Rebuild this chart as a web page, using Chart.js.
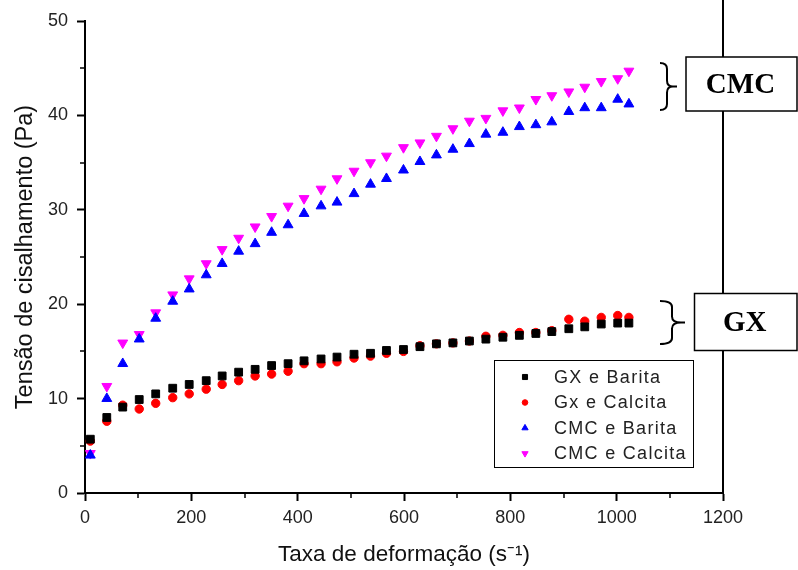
<!DOCTYPE html>
<html>
<head>
<meta charset="utf-8">
<script src="https://cdn.jsdelivr.net/npm/chart.js@4/dist/chart.umd.min.js"></script>
<style>
  body { margin: 0; background: #fff; }
  canvas { display: block; }
</style>
</head>
<body>
<canvas id="shear-chart" width="798" height="570"></canvas>
<script>
// shear rate (s^-1), same for all four samples
let shearRate = [10, 41, 71, 102, 133, 165, 196, 228, 258, 289, 320, 351, 382, 412, 444, 474, 506, 537,
    567, 599, 630, 661, 692, 723, 754, 786, 817, 848, 878, 910, 940, 971, 1002, 1023]

let gxBarita = [5.7, 8.0, 9.1, 9.9, 10.5, 11.1, 11.5, 11.9, 12.4, 12.8, 13.1, 13.5, 13.7, 14.0, 14.2, 14.4, 14.7, 14.8,
    15.1, 15.2, 15.5, 15.8, 15.9, 16.1, 16.3, 16.5, 16.7, 16.9, 17.1, 17.4, 17.6, 17.9, 18.0, 18.0]
let gxCalcita = [5.5, 7.6, 9.3, 8.9, 9.5, 10.1, 10.5, 11.0, 11.5, 11.9, 12.4, 12.6, 12.9, 13.7, 13.7, 13.9, 14.3, 14.5,
    14.8, 15.0, 15.6, 15.8, 15.9, 16.1, 16.6, 16.7, 17.0, 17.0, 17.2, 18.4, 18.2, 18.6, 18.8, 18.6]
let cmcBarita = [4.0, 10.0, 13.7, 16.3, 18.5, 20.3, 21.6, 23.1, 24.3, 25.6, 26.4, 27.6, 28.4, 29.6, 30.4, 30.8, 31.7, 32.7,
    33.3, 34.2, 35.1, 35.8, 36.4, 37.0, 38.0, 38.2, 38.8, 39.0, 39.3, 40.4, 40.8, 40.8, 41.7, 41.2]
let cmcCalcita = [4.2, 11.3, 15.9, 16.8, 19.1, 21.0, 22.7, 24.3, 25.8, 27.0, 28.2, 29.3, 30.4, 31.2, 32.2, 33.3, 34.1, 35.0,
    35.7, 36.6, 37.1, 37.8, 38.6, 39.4, 39.7, 40.5, 40.8, 41.7, 42.1, 42.5, 43.0, 43.6, 43.9, 44.7]

let seriesNames = ['GX e Barita', 'Gx e Calcita', 'CMC e Barita', 'CMC e Calcita']
let xTicks = [0, 200, 400, 600, 800, 1000, 1200]
let yTicks = [0, 10, 20, 30, 40, 50]
let groupLabels = ['CMC', 'GX']

function toPoints(ys) {
    return ys.map(function(y, i) { return {x: shearRate[i], y: y} })
}

let sansFont = '"Liberation Sans", Arial, sans-serif'

// little "}" bracket
function drawBracket(ctx, x0, xv, xt, y0, y1) {
    let ym = (y0 + y1) / 2
    let r = 6
    ctx.beginPath()
    ctx.moveTo(x0, y0)
    ctx.quadraticCurveTo(xv, y0, xv, y0 + r)
    ctx.lineTo(xv, ym - r)
    ctx.quadraticCurveTo(xv, ym, xt - 4, ym)
    ctx.lineTo(xt, ym)
    ctx.moveTo(xt - 4, ym)
    ctx.quadraticCurveTo(xv, ym, xv, ym + r)
    ctx.lineTo(xv, y1 - r)
    ctx.quadraticCurveTo(xv, y1, x0, y1)
    ctx.stroke()
}

let extras = {
    id: 'extras',
    afterDraw: function(chart) {
        let ctx = chart.ctx
        let xs = chart.scales.x
        let ys = chart.scales.y
        let area = chart.chartArea
        ctx.save()
        ctx.strokeStyle = '#000'
        ctx.lineCap = 'butt'

        // minor ticks
        ctx.lineWidth = 1.5
        ctx.beginPath()
        for (let v = 100; v < 1200; v += 200) {
            let px = Math.round(xs.getPixelForValue(v))
            ctx.moveTo(px, area.bottom)
            ctx.lineTo(px, area.bottom + 5)
        }
        for (let v = 5; v < 50; v += 10) {
            let py = Math.round(ys.getPixelForValue(v))
            ctx.moveTo(area.left, py)
            ctx.lineTo(area.left - 5, py)
        }
        ctx.stroke()

        // right frame line
        let rx = xs.getPixelForValue(1200)
        ctx.lineWidth = 2
        ctx.beginPath()
        ctx.moveTo(rx, 0)
        ctx.lineTo(rx, area.bottom)
        ctx.stroke()

        // group boxes
        let boxes = [
            {text: groupLabels[0], x: 686, y: 57, w: 111, h: 54, bx: [660, 667, 677, 63, 110]},
            {text: groupLabels[1], x: 694.5, y: 293.5, w: 102.5, h: 57, bx: [660, 672, 685, 301, 344]}
        ]
        boxes.forEach(function(b) {
            ctx.fillStyle = '#fff'
            ctx.fillRect(b.x, b.y, b.w, b.h)
            ctx.lineWidth = 1.5
            ctx.strokeRect(b.x, b.y, b.w, b.h)
            ctx.fillStyle = '#000'
            ctx.font = 'bold 29px "Liberation Serif", "Times New Roman", serif'
            ctx.textAlign = 'center'
            ctx.textBaseline = 'middle'
            ctx.fillText(b.text, b.x + b.w / 2 - 1, b.y + b.h / 2 + 2)
            ctx.lineWidth = 2
            drawBracket(ctx, b.bx[0], b.bx[1], b.bx[2], b.bx[3], b.bx[4])
        })

        // legend
        ctx.fillStyle = '#fff'
        ctx.fillRect(494.5, 360.5, 199, 107)
        ctx.lineWidth = 1
        ctx.strokeRect(494.5, 360.5, 199, 107)
        ctx.font = '18px ' + sansFont
        ctx.textAlign = 'left'
        ctx.textBaseline = 'middle'
        ctx.letterSpacing = '1.3px'
        chart.data.datasets.forEach(function(ds, i) {
            let ly = 377 + i * 25.5
            ctx.fillStyle = ds.backgroundColor
            ctx.strokeStyle = ds.borderColor
            ctx.lineWidth = 1
            Chart.helpers.drawPoint(ctx, {
                pointStyle: ds.pointStyle,
                radius: ds.pointStyle === 'circle' ? 2.8 : 3.6,
                rotation: ds.rotation || 0,
                borderWidth: 1
            }, 525, ly)
            ctx.fillStyle = '#222'
            ctx.fillText(ds.label, 554, ly + 1)
        })
        ctx.restore()
    }
}

let ctx = document.getElementById('shear-chart').getContext('2d')

let shearChart = new Chart(ctx, {
    type: 'scatter',
    data: {
        datasets: [
            {label: seriesNames[0], data: toPoints(gxBarita), pointStyle: 'rect', pointRadius: 5.5,
                backgroundColor: '#000', borderColor: '#000', borderWidth: 1},
            {label: seriesNames[1], data: toPoints(gxCalcita), pointStyle: 'circle', pointRadius: 4.2,
                backgroundColor: '#ff0000', borderColor: '#ff0000', borderWidth: 1},
            {label: seriesNames[2], data: toPoints(cmcBarita), pointStyle: 'triangle', pointRadius: 5.7,
                backgroundColor: '#0000ff', borderColor: '#0000ff', borderWidth: 1},
            {label: seriesNames[3], data: toPoints(cmcCalcita), pointStyle: 'triangle', pointRadius: 5.7, rotation: 180,
                backgroundColor: '#ff00ff', borderColor: '#ff00ff', borderWidth: 1}
        ]
    },
    options: {
        responsive: false,
        animation: false,
        events: [],
        layout: { padding: { top: 21, right: 75, left: 0, bottom: 0 } },
        plugins: {
            legend: { display: false },
            tooltip: { enabled: false }
        },
        scales: {
            x: {
                type: 'linear',
                min: 0,
                max: 1200,
                afterFit: function(scale) { scale.height = 77 },
                afterBuildTicks: function(scale) { scale.ticks = xTicks.map(function(v) { return {value: v} }) },
                ticks: {
                    color: '#222', font: { family: sansFont, size: 18 }, padding: 6, maxRotation: 0,
                    callback: function(v) { return String(v) }
                },
                grid: { drawOnChartArea: false, drawTicks: true, tickLength: 8, tickWidth: 2, tickColor: '#000' },
                border: { display: true, color: '#000', width: 2 },
                title: {
                    display: true,
                    text: 'Taxa de deformação (s⁻¹)',
                    color: '#111',
                    font: { family: sansFont, size: 22.5 },
                    padding: { top: 0, bottom: 2 }
                }
            },
            y: {
                min: 0,
                max: 50,
                afterFit: function(scale) { scale.width = 85 },
                afterBuildTicks: function(scale) { scale.ticks = yTicks.map(function(v) { return {value: v} }) },
                ticks: {
                    color: '#222', font: { family: sansFont, size: 18 }, padding: 9,
                    callback: function(v) { return String(v) }
                },
                grid: { drawOnChartArea: false, drawTicks: true, tickLength: 8, tickWidth: 2, tickColor: '#000' },
                border: { display: true, color: '#000', width: 2 },
                title: {
                    display: true,
                    text: 'Tensão de cisalhamento (Pa)',
                    color: '#111',
                    font: { family: sansFont, size: 23.5 },
                    padding: { top: 11, bottom: 0 }
                }
            }
        }
    },
    plugins: [extras]
})
</script>
</body>
</html>
